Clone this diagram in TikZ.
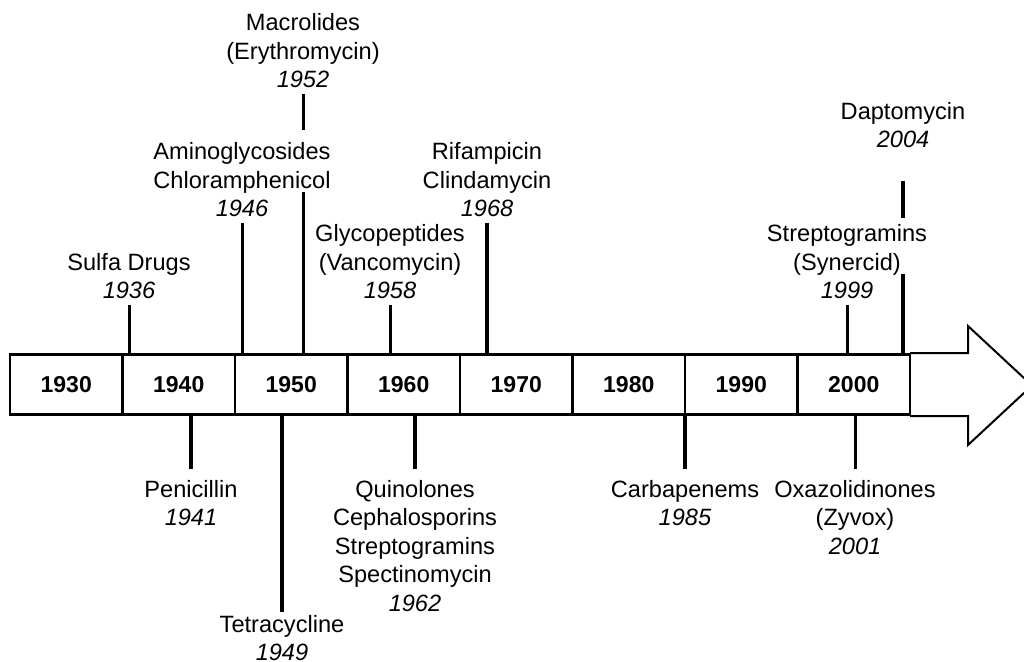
\documentclass[tikz,border=0pt]{standalone}
\usepackage{fontspec}
\setmainfont{Liberation Sans}
\usetikzlibrary{calc}
\begin{document}
\begin{tikzpicture}[x=1pt,y=-1pt,
  lab/.style={align=center, font=\fontsize{23.6}{28.5}\selectfont, inner xsep=2, text=black},
  up/.style={lab, anchor=south, inner ysep=6},
  down/.style={lab, anchor=north, inner ysep=11},
  yearbox/.style={draw, line width=2.7, minimum width=112.5, minimum height=59.5, inner sep=0, outer sep=0, font=\fontsize{23}{28}\selectfont\bfseries},
  tickA/.style={line width=3},
  tickB/.style={line width=4},
  bigarrow/.style={line width=2, line join=miter, fill=white}
]
\useasboundingbox (0,0) rectangle (1024,661);

% arrow head of the time line
\draw[bigarrow] (910,353) -- (968,353) -- (968,326) -- (1032,385.5) -- (968,445) -- (968,416) -- (910,416);

% decade boxes
\foreach \yr [count=\i from 0] in {1930,1940,1950,1960,1970,1980,1990,2000}
  \node[yearbox] (b\yr) at ({10+112.5*(\i+0.5)},384.5) {\yr};

% labels above
\node[up] (sulfa) at (129,305) {Sulfa Drugs\\\textit{1936}};
\node[up] (amino) at (242,223) {Aminoglycosides\\Chloramphenicol\\\textit{1946}};
\node[up] (macro) at (303,94) {Macrolides\\(Erythromycin)\\\textit{1952}};
\node[up] (glyco) at (390,305) {Glycopeptides\\(Vancomycin)\\\textit{1958}};
\node[up] (rifam) at (487,223) {Rifampicin\\Clindamycin\\\textit{1968}};
\node[up] (strep) at (847,305) {Streptogramins\\(Synercid)\\\textit{1999}};
\node[up] (dapto) at (903,154) {Daptomycin\\\textit{2004}};

% labels below
\node[down] (peni) at (191,469) {Penicillin\\\textit{1941}};
\node[down, inner ysep=3] (tetra) at (282,612) {Tetracycline\\\textit{1949}};
\node[down] (quino) at (415,469) {Quinolones\\Cephalosporins\\Streptogramins\\Spectinomycin\\\textit{1962}};
\node[down] (carba) at (685,469) {Carbapenems\\\textit{1985}};
\node[down] (oxa) at (855,469) {Oxazolidinones\\(Zyvox)\\\textit{2001}};

% ticks above
\draw[tickA] (sulfa.south) -- (sulfa.south |- b1940.north);
\draw[tickA] (amino.south) -- (amino.south |- b1950.north);
\draw[tickA, shorten >=6] (macro.south) -- (macro.south |- amino.north);
\draw[tickA] ($(amino.south -| macro.south)+(0,-30.7)$) -- (macro.south |- b1950.north);
\draw[tickA] (glyco.south) -- (glyco.south |- b1960.north);
\draw[tickB] (rifam.south) -- (rifam.south |- b1970.north);
\draw[tickA] (strep.south) -- (strep.south |- b2000.north);
\draw[tickB, shorten <=27] (dapto.south) -- (dapto.south |- strep.north);
\draw[tickB] ($(strep.south -| dapto.south)+(0,-30.7)$) -- (dapto.south |- b2000.north);

% ticks below
\draw[tickB] (peni.north) -- (peni.north |- b1940.south);
\draw[tickB] (tetra.north) -- (tetra.north |- b1950.south);
\draw[tickB] (quino.north) -- (quino.north |- b1960.south);
\draw[tickB] (carba.north) -- (carba.north |- b1980.south);
\draw[tickA] (oxa.north) -- (oxa.north |- b2000.south);
\end{tikzpicture}
\end{document}
